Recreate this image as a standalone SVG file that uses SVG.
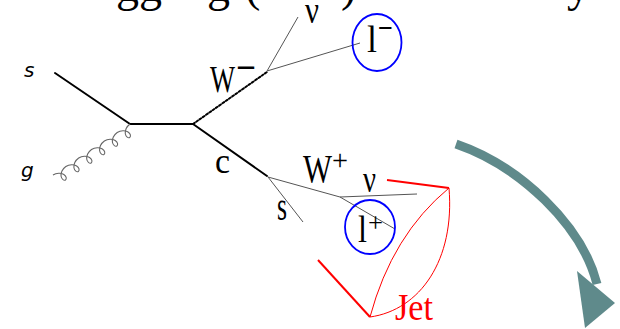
<svg xmlns="http://www.w3.org/2000/svg" width="620" height="329" viewBox="0 0 620 329">
  <style>
    .lbl { font-family: "Liberation Serif", "Times New Roman", serif; fill: #000; }
    .ital { font-family: "DejaVu Sans", sans-serif; font-style: oblique; fill: #000; }
    .quark { stroke: #000; stroke-width: 2; fill: none; stroke-linecap: round; }
    .thin { stroke: #555; stroke-width: 1; fill: none; }
    .gluon { stroke: #666; stroke-width: 1.1; fill: none; }
    .ring { stroke: #0000ff; stroke-width: 1.8; fill: none; }
    .jet { stroke: #ff0000; fill: none; }
  </style>
  <rect width="620" height="329" fill="#ffffff"/>

  <g id="title-fragment" class="lbl" font-size="46">
    <text x="116" y="1">gg</text>
    <text x="207" y="1">g</text>
    <text x="245" y="1">(</text>
    <text x="341" y="1">)</text>
    <text x="567" y="1">y</text>
  </g>

  <g id="connectors">
    <line class="quark" x1="55" y1="73" x2="130" y2="124"/>
    <line class="quark" x1="130" y1="124" x2="193" y2="124"/>
    <line class="quark" x1="193" y1="124" x2="267" y2="72" stroke-dasharray="2 2" stroke-linecap="butt"/>
    <line class="quark" x1="193" y1="124" x2="267" y2="176"/>
    <path class="gluon" transform="translate(53,175) rotate(-33.5)" d="M0,0 c4.16,0 8.07,2.62 9.35,5.5 c1.28,2.88 -0.05,5.5 -1.65,5.5 c-1.60,0 -2.94,-2.62 -1.65,-5.5 c1.28,-2.88 5.19,-5.5 9.35,-5.5 c4.16,0 8.07,2.62 9.35,5.5 c1.28,2.88 -0.05,5.5 -1.65,5.5 c-1.60,0 -2.94,-2.62 -1.65,-5.5 c1.28,-2.88 5.19,-5.5 9.35,-5.5 c4.16,0 8.07,2.62 9.35,5.5 c1.28,2.88 -0.05,5.5 -1.65,5.5 c-1.60,0 -2.94,-2.62 -1.65,-5.5 c1.28,-2.88 5.19,-5.5 9.35,-5.5 c4.16,0 8.07,2.62 9.35,5.5 c1.28,2.88 -0.05,5.5 -1.65,5.5 c-1.60,0 -2.94,-2.62 -1.65,-5.5 c1.28,-2.88 5.19,-5.5 9.35,-5.5 c4.16,0 8.07,2.62 9.35,5.5 c1.28,2.88 -0.05,5.5 -1.65,5.5 c-1.60,0 -2.94,-2.62 -1.65,-5.5 c1.28,-2.88 5.19,-5.5 9.35,-5.5 c4.16,0 8.07,2.62 9.35,5.5 c1.28,2.88 -0.05,5.5 -1.65,5.5 c-1.60,0 -2.94,-2.62 -1.65,-5.5 c1.28,-2.88 5.19,-5.5 9.35,-5.5"/>
    <line class="thin" x1="267" y1="71" x2="298" y2="17"/>
    <line class="thin" x1="267" y1="71" x2="360" y2="43"/>
    <line class="thin" x1="268" y1="177" x2="340" y2="197"/>
    <line class="thin" x1="268" y1="177" x2="303" y2="222"/>
    <line class="thin" x1="340" y1="197" x2="417" y2="194"/>
    <line class="thin" x1="340" y1="197" x2="395" y2="229"/>
  </g>

  <g id="jet">
    <line class="jet" stroke-width="2" x1="387" y1="180" x2="449" y2="188"/>
    <line class="jet" stroke-width="2" x1="318" y1="260" x2="370" y2="317"/>
    <path class="jet" stroke-width="1" d="M370,317 Q392,235 449,188"/>
    <path class="jet" stroke-width="1" d="M370,317 C420,310 455,260 449,188"/>
    <text class="lbl" x="395" y="320" font-size="38" textLength="38" lengthAdjust="spacingAndGlyphs" style="fill:#ff0000">Jet</text>
  </g>

  <g id="arrow" fill="#5f8a8b">
    <path d="M456,144 C520,166 582,225 597,284" stroke="#5f8a8b" stroke-width="9" fill="none"/>
    <polygon points="577,271 615,303 585,328"/>
  </g>

  <g id="node-s">
    <text class="ital" x="24" y="77" font-size="20">s</text>
  </g>
  <g id="node-g">
    <text class="ital" x="21" y="177" font-size="20">g</text>
  </g>
  <g id="label-Wminus" class="lbl">
    <text x="210" y="92" font-size="37" textLength="25" lengthAdjust="spacingAndGlyphs">W</text>
    <text x="236" y="80" font-size="37" font-weight="bold" textLength="20" lengthAdjust="spacingAndGlyphs">−</text>
  </g>
  <g id="label-nu1" class="lbl">
    <text x="305" y="23" font-size="38" textLength="14" lengthAdjust="spacingAndGlyphs">ν</text>
  </g>
  <g id="node-lminus">
    <ellipse class="ring" cx="377" cy="42.5" rx="24.5" ry="28.5"/>
    <text class="lbl" x="367" y="52" font-size="38" textLength="10" lengthAdjust="spacingAndGlyphs">l</text>
    <text class="lbl" x="378" y="37" font-size="28" font-weight="bold" textLength="15" lengthAdjust="spacingAndGlyphs">−</text>
  </g>
  <g id="label-c" class="lbl">
    <text x="215" y="173" font-size="36" textLength="15" lengthAdjust="spacingAndGlyphs">c</text>
  </g>
  <g id="label-Wplus" class="lbl">
    <text x="303" y="182" font-size="40" textLength="29" lengthAdjust="spacingAndGlyphs">W</text>
    <text x="332" y="170" font-size="30" textLength="16" lengthAdjust="spacingAndGlyphs">+</text>
  </g>
  <g id="label-nu2" class="lbl">
    <text x="363" y="192" font-size="38" textLength="13" lengthAdjust="spacingAndGlyphs">ν</text>
  </g>
  <g id="label-s2" class="lbl">
    <text x="277" y="220" font-size="42" textLength="10" lengthAdjust="spacingAndGlyphs">s</text>
  </g>
  <g id="node-lplus">
    <ellipse class="ring" cx="370" cy="227" rx="25" ry="27"/>
    <text class="lbl" x="358" y="242" font-size="38" textLength="9" lengthAdjust="spacingAndGlyphs">l</text>
    <text class="lbl" x="368" y="232" font-size="28" textLength="15" lengthAdjust="spacingAndGlyphs">+</text>
  </g>
</svg>
